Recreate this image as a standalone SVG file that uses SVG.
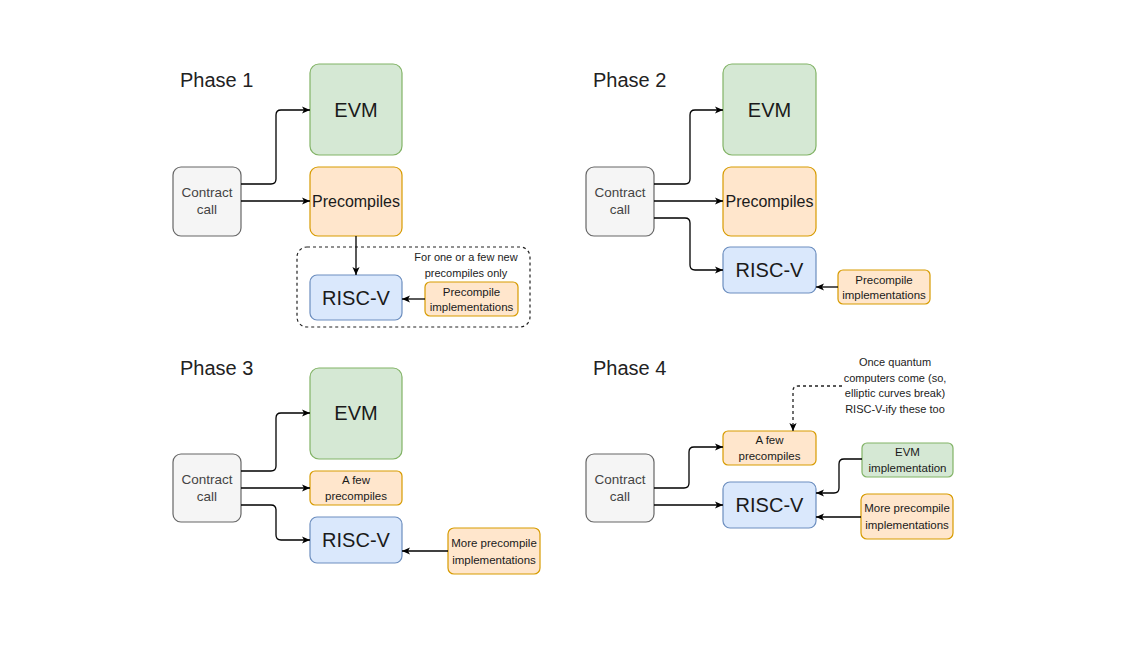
<svg xmlns="http://www.w3.org/2000/svg" width="1125" height="660" viewBox="0 0 1125 660">
<defs>
<marker id="arr" viewBox="0 0 10 10" refX="10" refY="5" markerWidth="8" markerHeight="8" markerUnits="userSpaceOnUse" orient="auto">
<path d="M0,0.5 L10,5 L0,9.5 L2.5,5 z" fill="#000" stroke="none"/>
</marker>
<style>
text{font-family:"Liberation Sans",Arial,Helvetica,sans-serif;fill:#1a1a1a;text-anchor:middle}
.title{font-size:20px;text-anchor:start;fill:#222}
.big{font-size:20px}
.med{font-size:16px}
.cc{font-size:13.5px;fill:#444}
.sm{font-size:11.5px}
.note{font-size:11px;fill:#222}
.green{fill:#d5e8d4;stroke:#82b366;stroke-width:1.2}
.orange{fill:#ffe6cc;stroke:#d79b00;stroke-width:1.2}
.blue{fill:#dae8fc;stroke:#6c8ebf;stroke-width:1.2}
.grey{fill:#f5f5f5;stroke:#666666;stroke-width:1.2}
.edge{fill:none;stroke:#000;stroke-width:1.3;marker-end:url(#arr)}
.dash{fill:none;stroke:#222;stroke-width:1.2;stroke-dasharray:3 3}
</style>
</defs>
<rect width="1125" height="660" fill="#fff"/>

<!-- Titles -->
<g id="titles">
<text class="title" x="180" y="87">Phase 1</text>
<text class="title" x="593" y="87">Phase 2</text>
<text class="title" x="180" y="375">Phase 3</text>
<text class="title" x="593" y="375">Phase 4</text>
</g>

<!-- Phase 1 -->
<g id="p1-group">
<rect class="dash" x="297" y="247" width="233" height="80" rx="10"/>
<text class="note" x="466" y="261">For one or a few new</text>
<text class="note" x="466" y="277">precompiles only</text>
</g>
<g id="p1-evm"><rect class="green" x="310" y="64" width="92" height="91" rx="9"/><text class="big" x="356" y="117">EVM</text></g>
<g id="p1-contract"><rect class="grey" x="173" y="167" width="68" height="69" rx="8"/><text class="cc" x="207" y="197">Contract</text><text class="cc" x="207" y="214">call</text></g>
<g id="p1-precompiles"><rect class="orange" x="310" y="167" width="92" height="69" rx="8"/><text class="med" x="356" y="207">Precompiles</text></g>
<g id="p1-riscv"><rect class="blue" x="310" y="275" width="92" height="45" rx="7"/><text class="big" x="356" y="305">RISC-V</text></g>
<g id="p1-impl"><rect class="orange" x="425" y="282" width="93" height="34" rx="5"/><text class="sm" x="471.5" y="296">Precompile</text><text class="sm" x="471.5" y="311">implementations</text></g>

<!-- Phase 2 -->
<g id="p2-evm"><rect class="green" x="723" y="64" width="93" height="91" rx="9"/><text class="big" x="769.5" y="117">EVM</text></g>
<g id="p2-contract"><rect class="grey" x="586" y="167" width="68" height="69" rx="8"/><text class="cc" x="620" y="197">Contract</text><text class="cc" x="620" y="214">call</text></g>
<g id="p2-precompiles"><rect class="orange" x="723" y="167" width="93" height="69" rx="8"/><text class="med" x="769.5" y="207">Precompiles</text></g>
<g id="p2-riscv"><rect class="blue" x="723" y="247" width="93" height="46" rx="7"/><text class="big" x="769.5" y="277">RISC-V</text></g>
<g id="p2-impl"><rect class="orange" x="838" y="270" width="92" height="34" rx="5"/><text class="sm" x="884" y="284">Precompile</text><text class="sm" x="884" y="299">implementations</text></g>

<!-- Phase 3 -->
<g id="p3-evm"><rect class="green" x="310" y="368" width="92" height="91" rx="9"/><text class="big" x="356" y="420">EVM</text></g>
<g id="p3-contract"><rect class="grey" x="173" y="454" width="68" height="68" rx="8"/><text class="cc" x="207" y="484">Contract</text><text class="cc" x="207" y="501">call</text></g>
<g id="p3-few"><rect class="orange" x="310" y="471" width="92" height="34" rx="5"/><text class="sm" x="356" y="484">A few</text><text class="sm" x="356" y="500">precompiles</text></g>
<g id="p3-riscv"><rect class="blue" x="310" y="517" width="92" height="46" rx="7"/><text class="big" x="356" y="547">RISC-V</text></g>
<g id="p3-impl"><rect class="orange" x="448" y="528" width="92" height="46" rx="6"/><text class="sm" x="494" y="547">More precompile</text><text class="sm" x="494" y="564">implementations</text></g>

<!-- Phase 4 -->
<g id="p4-note">
<text class="note" x="895" y="366">Once quantum</text>
<text class="note" x="895" y="382">computers come (so,</text>
<text class="note" x="895" y="397">elliptic curves break)</text>
<text class="note" x="895" y="413">RISC-V-ify these too</text>
</g>
<g id="p4-contract"><rect class="grey" x="586" y="454" width="68" height="68" rx="8"/><text class="cc" x="620" y="484">Contract</text><text class="cc" x="620" y="501">call</text></g>
<g id="p4-few"><rect class="orange" x="723" y="431" width="93" height="34" rx="5"/><text class="sm" x="769.5" y="444">A few</text><text class="sm" x="769.5" y="460">precompiles</text></g>
<g id="p4-riscv"><rect class="blue" x="723" y="482" width="93" height="46" rx="7"/><text class="big" x="769.5" y="512">RISC-V</text></g>
<g id="p4-evmimpl"><rect class="green" x="862" y="443" width="91" height="34" rx="5"/><text class="sm" x="907.5" y="456">EVM</text><text class="sm" x="907.5" y="472">implementation</text></g>
<g id="p4-impl"><rect class="orange" x="861" y="494" width="92" height="45" rx="6"/><text class="sm" x="907" y="512">More precompile</text><text class="sm" x="907" y="529">implementations</text></g>

<!-- Connectors -->
<g id="connectors">
<path class="edge" d="M241,184 H271 Q276,184 276,179 V115 Q276,110 281,110 H310"/>
<path class="edge" d="M241,201 H310"/>
<path class="edge" d="M356,236 V275"/>
<path class="edge" d="M425,299 H402"/>

<path class="edge" d="M654,184 H685 Q690,184 690,179 V115 Q690,110 695,110 H723"/>
<path class="edge" d="M654,201 H723"/>
<path class="edge" d="M654,218 H685 Q690,218 690,223 V265 Q690,270 695,270 H723"/>
<path class="edge" d="M838,287 H816"/>

<path class="edge" d="M241,471 H271 Q276,471 276,466 V418 Q276,413 281,413 H310"/>
<path class="edge" d="M241,488 H310"/>
<path class="edge" d="M241,505 H271 Q276,505 276,510 V535 Q276,540 281,540 H310"/>
<path class="edge" d="M448,551 H402"/>

<path class="edge" d="M654,488 H684 Q689,488 689,483 V452 Q689,447 694,447 H723"/>
<path class="edge" d="M654,505 H723"/>
<path class="edge" d="M862,459 H844 Q839,459 839,464 V488 Q839,493 834,493 H816"/>
<path class="edge" d="M861,517 H816"/>
<path class="edge" style="stroke-dasharray:3 3;stroke:#222" d="M842,386 H798 Q793,386 793,391 V431"/>
</g>
</svg>
